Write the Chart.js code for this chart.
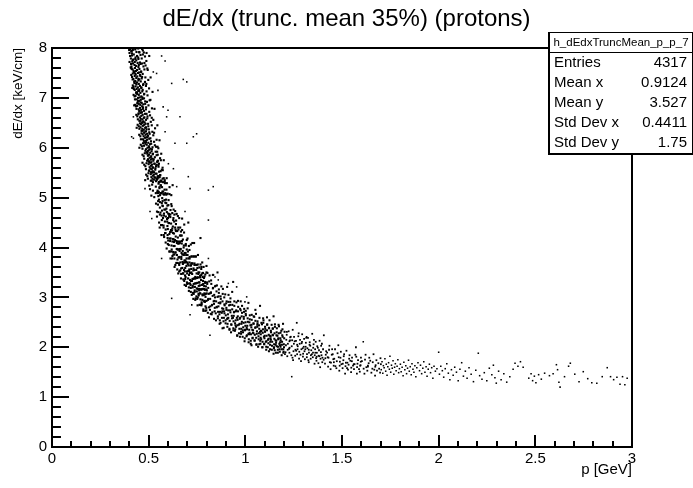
<!DOCTYPE html>
<html>
<head>
<meta charset="utf-8">
<title>dE/dx (trunc. mean 35%) (protons)</title>
<script src="https://cdn.jsdelivr.net/npm/chart.js@4.4.1/dist/chart.umd.min.js"></script>
<style>
  html, body { margin: 0; padding: 0; background: #fff; }
  #plot { display: block; }
</style>
</head>
<body>
<canvas id="plot" width="693" height="488"></canvas>
<script>
// --- DATA ([p GeV, dE/dx keV/cm]) ---

const xRange = [0, 3];
const yRange = [0, 8];
const xTickStep = 0.5;
const yTickStep = 1;

// steep part of the band, p < 0.6
const steepBand = [
  [.405,7.98],[.431,7.97],[.446,7.99],[.418,7.96],[.412,7.93],[.437,7.92],[.401,7.9],[.452,7.91],
  [.423,7.87],[.414,7.85],[.44,7.84],[.432,7.81],[.408,7.79],[.447,7.78],[.421,7.77],
  [.436,7.75],[.415,7.73],[.428,7.72],[.443,7.7],[.419,7.69],[.458,7.68],[.427,7.66],
  [.435,7.64],[.411,7.63],[.447,7.62],[.429,7.6],[.452,7.58],[.417,7.57],[.44,7.56],
  [.434,7.54],[.461,7.53],[.424,7.52],[.445,7.5],[.418,7.49],[.433,7.47],[.455,7.46],
  [.428,7.44],[.441,7.43],[.466,7.42],[.436,7.4],[.421,7.38],[.452,7.37],[.447,7.35],
  [.431,7.34],[.459,7.33],[.44,7.31],[.426,7.3],[.449,7.28],[.437,7.27],[.471,7.26],
  [.455,7.24],[.432,7.23],[.444,7.21],[.462,7.2],[.438,7.18],[.451,7.17],[.428,7.16],
  [.446,7.14],[.467,7.13],[.435,7.11],[.457,7.1],[.441,7.08],[.476,7.07],[.449,7.06],
  [.432,7.04],[.462,7.03],[.454,7.01],[.445,7.0],[.468,6.98],[.438,6.97],[.459,6.96],
  [.451,6.94],[.482,6.93],[.443,6.91],[.464,6.9],[.449,6.88],[.472,6.87],[.457,6.86],
  [.441,6.84],[.466,6.83],[.487,6.81],[.455,6.8],[.47,6.78],[.448,6.77],[.461,6.76],
  [.476,6.74],[.452,6.73],[.465,6.71],[.458,6.7],[.481,6.68],[.447,6.67],[.469,6.66],
  [.462,6.64],[.494,6.63],[.455,6.61],[.475,6.6],[.459,6.58],[.468,6.57],[.486,6.56],
  [.452,6.54],[.472,6.53],[.479,6.51],[.466,6.5],[.484,6.48],[.461,6.47],[.477,6.46],
  [.47,6.44],[.498,6.43],[.458,6.41],[.482,6.4],[.467,6.38],[.489,6.37],[.475,6.36],
  [.463,6.34],[.486,6.33],[.503,6.31],[.478,6.3],[.492,6.28],[.469,6.27],[.484,6.26],
  [.497,6.24],[.474,6.23],[.488,6.21],[.481,6.2],[.503,6.18],[.471,6.17],[.492,6.16],
  [.486,6.14],[.512,6.13],[.478,6.11],[.498,6.1],[.483,6.08],[.507,6.07],[.49,6.06],
  [.476,6.04],[.501,6.03],[.52,6.01],[.494,6.0],[.509,5.98],[.486,5.97],[.503,5.96],
  [.497,5.94],[.515,5.93],[.489,5.91],[.508,5.9],[.493,5.88],[.521,5.87],[.502,5.86],
  [.496,5.84],[.513,5.83],[.532,5.81],[.505,5.8],[.518,5.78],[.497,5.77],[.511,5.76],
  [.524,5.74],[.501,5.73],[.514,5.71],[.509,5.7],[.529,5.68],[.5,5.67],[.517,5.66],
  [.512,5.64],[.538,5.63],[.505,5.61],[.523,5.6],[.509,5.58],[.516,5.57],[.534,5.56],
  [.503,5.54],[.521,5.53],[.528,5.51],[.518,5.5],[.536,5.48],[.511,5.47],[.527,5.46],
  [.522,5.44],[.547,5.43],[.514,5.41],[.533,5.4],[.52,5.38],[.541,5.37],[.527,5.36],
  [.516,5.34],[.538,5.33],[.552,5.31],
  [.47,7.95],[.489,7.9],[.503,7.84],[.478,7.7],[.495,7.56],[.51,7.41],[.488,7.28],[.52,7.12],
  [.505,6.95],[.53,6.78],[.516,6.6],[.545,6.45],[.528,6.3],[.556,6.15],[.538,6.02],[.565,5.88],
  [.548,5.74],[.572,5.6],[.559,5.45],[.41,7.6],[.415,7.2],[.425,6.85],[.438,6.4],[.452,6.0],
  [.468,5.7],[.482,5.35],
  // edges of the band
  [.399,7.96],[.466,7.98],[.451,7.92],[.41,7.94],[.475,7.91],[.425,7.99],
  [.404,7.84],[.47,7.87],[.446,7.81],[.414,7.89],[.481,7.83],[.458,7.86],
  [.401,7.72],[.464,7.79],[.455,7.71],[.418,7.76],[.488,7.74],[.431,7.78],
  [.409,7.68],[.473,7.63],[.449,7.66],[.407,7.61],[.466,7.69],[.484,7.65],
  [.412,7.58],[.461,7.52],[.478,7.57],[.422,7.54],[.493,7.59],[.451,7.51],
  [.414,7.42],[.469,7.48],[.457,7.44],[.43,7.49],[.483,7.41],[.41,7.46],
  [.417,7.37],[.481,7.32],[.464,7.39],[.425,7.33],[.498,7.36],[.447,7.38],
  [.421,7.22],[.473,7.28],[.486,7.24],[.433,7.29],[.462,7.21],[.418,7.25],
  [.423,7.18],[.489,7.13],[.469,7.16],[.44,7.11],[.502,7.19],[.451,7.14],
  [.427,7.03],[.477,7.08],[.494,7.05],[.436,7.09],[.467,7.01],[.422,7.06],
  [.429,6.97],[.491,6.92],[.476,6.99],[.445,6.94],[.509,6.96],[.458,6.91],
  [.434,6.83],[.482,6.88],[.499,6.85],[.441,6.89],[.471,6.81],[.43,6.86],
  [.437,6.78],[.503,6.72],[.486,6.77],[.452,6.74],[.517,6.79],[.463,6.71],
  [.441,6.63],[.489,6.68],[.507,6.65],[.448,6.69],[.478,6.61],[.436,6.66],
  [.444,6.57],[.511,6.52],[.493,6.59],[.458,6.54],[.524,6.56],[.469,6.51],
  [.449,6.43],[.497,6.48],[.516,6.45],[.455,6.49],[.486,6.41],[.443,6.46],
  [.452,6.38],[.519,6.32],[.501,6.37],[.467,6.34],[.533,6.39],[.477,6.31],
  [.457,6.23],[.505,6.28],[.524,6.25],[.463,6.29],[.494,6.21],[.451,6.26],
  [.46,6.17],[.528,6.12],[.509,6.19],[.475,6.14],[.541,6.16],[.486,6.11],
  [.465,6.03],[.513,6.08],[.532,6.05],[.471,6.09],[.502,6.01],[.459,6.06],
  [.468,5.98],[.536,5.92],[.517,5.97],[.483,5.94],[.55,5.99],[.494,5.91],
  [.474,5.83],[.522,5.88],[.541,5.85],[.48,5.89],[.511,5.81],[.468,5.86],
  [.477,5.78],[.545,5.72],[.526,5.77],[.492,5.74],[.559,5.79],[.503,5.71],
  [.483,5.63],[.531,5.68],[.55,5.65],[.489,5.69],[.52,5.61],[.477,5.66],
  [.486,5.57],[.554,5.52],[.535,5.59],[.501,5.54],[.568,5.56],[.512,5.51],
  [.493,5.43],[.541,5.48],[.56,5.45],[.499,5.49],[.53,5.41],[.487,5.46],
  [.496,5.38],[.564,5.32],[.545,5.37],[.511,5.34],[.578,5.39],[.522,5.31],
  [.503,5.24],[.551,5.28],[.569,5.21],[.518,5.26],[.584,5.29],[.537,5.22],
  [.507,5.17],[.575,5.12],[.556,5.19],[.522,5.14],[.545,5.11],[.592,5.16],
  [.514,5.04],[.561,5.09],[.58,5.06],[.529,5.01],[.598,5.08],[.55,5.03]
];

// knee of the band, 0.54 < p < 0.80
const kneeBand = [
  [.538,4.88],[.542,5.36],[.544,5.72],[.537,5.09],[.547,5.86],[.545,5.4],[.543,4.72],[.546,5.14],
  [.551,5.43],[.548,4.86],[.553,5.68],[.55,5.12],[.549,4.71],[.556,5.21],[.557,5.41],[.553,4.96],[.554,4.5],
  [.562,5.25],[.559,5.05],[.561,4.7],[.563,5.75],[.558,4.8],[.566,5.34],[.564,4.45],[.567,5.09],[.563,5.24],
  [.571,4.84],[.572,5.38],[.569,4.74],[.568,4.55],[.57,4.99],[.578,5.75],[.574,4.59],[.576,5.07],[.573,4.83],
  [.58,4.21],[.582,5.16],[.579,4.68],[.583,5.35],[.577,4.4],[.586,4.9],[.584,4.52],[.587,4.76],[.585,4.29],
  [.59,4.96],[.592,4.78],[.588,4.36],[.591,5.06],[.594,5.29],[.596,4.52],[.593,3.98],[.597,4.84],[.595,4.57],
  [.601,4.68],[.599,4.37],[.603,4.95],[.598,4.19],[.6,4.59],[.608,5.21],[.606,4.67],[.604,4.05],[.605,4.49],
  [.609,4.18],[.611,4.31],[.613,4.75],[.607,3.92],[.612,4.66],[.617,4.87],[.615,4.35],[.614,4.18],[.616,4.48],
  [.619,3.96],[.622,4.69],[.618,4.04],[.621,4.34],[.624,5.25],[.626,4.17],[.625,4.42],[.623,3.83],[.627,4.55],
  [.63,4.16],[.628,3.86],[.631,4.28],[.633,4.66],[.629,4.03],[.637,4.4],[.634,4.03],[.636,4.15],[.633,3.86],
  [.641,4.47],[.638,3.65],[.64,4.22],[.639,3.9],[.644,4.67],[.646,4.09],[.645,3.97],[.648,4.33],[.643,3.69],
  [.651,4.2],[.649,3.76],[.65,3.96],[.653,4.4],[.652,4.08],[.654,3.8],[.658,4.59],[.653,3.48],[.656,4.08],
  [.66,3.93],[.662,4.24],[.658,3.65],[.661,4.09],[.659,3.81],[.667,4.32],[.664,3.7],[.666,3.97],[.663,3.54],
  [.671,4.08],[.669,3.81],[.668,3.47],[.673,4.35],[.67,3.89],[.674,3.59],[.676,3.93],[.677,4.16],[.675,3.71],
  [.68,3.86],[.678,3.48],[.684,4.46],[.681,3.7],[.682,4.04],[.684,3.33],[.686,3.89],[.685,3.74],[.683,3.55],
  [.692,4.07],[.689,3.59],[.691,3.89],[.688,3.44],[.69,3.74],[.695,3.63],[.697,3.96],[.693,3.23],[.696,3.78],
  [.701,3.85],[.699,3.48],[.705,4.5],[.698,3.3],[.7,3.7],[.704,3.38],[.706,3.64],[.708,4.03],[.705,3.53],
  [.711,3.7],[.708,3.2],[.712,3.81],[.709,3.45],[.71,3.56],[.718,4.06],[.714,3.28],[.716,3.64],[.715,3.49],
  [.719,3.33],[.722,3.82],[.718,3.19],[.72,3.57],[.721,3.68],[.725,3.47],[.723,3.05],[.727,3.68],[.724,3.33],
  [.732,3.82],[.729,3.37],[.731,3.54],[.728,3.2],[.735,4.09],[.735,3.38],[.737,3.65],[.733,3.07],[.736,3.55],
  [.739,3.21],[.741,3.41],[.744,3.82],[.738,3.11],[.74,3.28],[.746,3.55],[.745,3.28],[.748,3.65],[.743,2.98],
  [.75,3.39],[.749,3.12],[.751,3.29],[.755,3.85],[.752,3.59],[.754,3.0],[.756,3.4],[.753,3.17],[.757,3.47],
  [.762,3.6],[.759,3.04],[.76,3.3],[.761,3.17],[.768,4.19],[.763,2.85],[.766,3.43],[.765,3.24],[.764,3.08],
  [.771,3.35],[.77,3.16],[.773,3.61],[.768,2.96],[.772,3.45],[.775,3.16],[.774,2.87],[.777,3.48],[.776,3.25],
  [.779,3.04],[.781,3.33],[.778,2.95],[.784,3.61],[.78,3.17],[.786,3.39],[.785,3.05],[.783,2.76],[.787,3.23],
  [.789,2.93],[.79,3.15],[.793,3.46],[.791,3.06],[.792,3.31],[.794,2.82],[.796,3.22],[.795,3.07],[.799,3.63],
  [.801,3.14],[.799,2.93],[.802,3.3],[.798,2.74],[.8,3.08],
  [.543,4.62],[.547,5.4],[.549,4.93],[.544,5.92],[.541,5.66],[.548,5.09],[.546,6.02],
  [.553,5.41],[.558,4.66],[.552,5.11],[.557,4.4],[.551,5.62],[.559,4.91],[.554,5.31],
  [.567,4.64],[.562,5.53],[.569,4.45],[.563,5.09],[.568,4.89],[.561,5.34],[.566,4.25],
  [.572,4.93],[.578,4.25],[.574,5.31],[.579,4.64],[.571,5.12],[.577,4.44],[.573,5.55],
  [.587,4.29],[.582,4.95],[.589,4.62],[.583,5.32],[.588,4.1],[.581,4.76],[.586,5.09],
  [.592,5.07],[.598,4.25],[.594,4.71],[.599,4.07],[.591,4.89],[.597,4.43],[.593,5.39],
  [.607,4.27],[.602,4.85],[.609,3.92],[.603,4.49],[.608,5.07],[.601,4.14],[.606,4.63],
  [.612,4.61],[.618,3.92],[.614,4.31],[.619,4.83],[.611,4.13],[.617,5.05],[.613,3.78],
  [.627,3.91],[.622,4.38],[.629,4.76],[.623,4.12],[.628,4.59],[.621,3.78],[.626,4.29],
  [.632,4.52],[.638,3.9],[.634,3.61],[.639,4.36],[.631,4.11],[.637,4.73],[.633,3.78],
  [.647,3.97],[.642,4.54],[.649,3.69],[.643,4.13],[.648,3.56],[.641,4.33],[.646,3.85],
  [.652,4.12],[.658,3.52],[.654,4.36],[.659,3.8],[.651,4.63],[.657,3.68],[.653,3.96],
  [.667,3.38],[.662,4.12],[.669,3.77],[.663,4.4],[.668,3.58],[.661,3.97],[.666,4.24],
  [.672,4.13],[.678,3.48],[.674,3.86],[.679,3.36],[.671,4.24],[.677,3.67],[.673,4.58],
  [.687,3.52],[.682,3.85],[.689,3.37],[.683,4.3],[.688,3.7],[.681,4.0],[.686,3.25],
  [.692,4.04],[.698,3.52],[.694,3.85],[.699,3.27],[.691,3.41],[.697,4.15],[.693,3.71],
  [.707,3.28],[.702,3.67],[.709,3.53],[.703,3.92],[.708,3.13],[.701,4.18],[.706,3.78],
  [.712,3.78],[.718,3.11],[.714,3.35],[.719,3.64],[.711,3.95],[.717,3.25],[.713,3.49],
  [.727,3.37],[.722,3.82],[.729,3.09],[.723,3.68],[.728,3.23],[.721,3.5],[.726,4.09],
  [.732,3.58],[.738,3.14],[.734,3.82],[.739,3.38],[.731,2.97],[.737,3.68],[.733,3.27],
  [.747,3.02],[.742,3.38],[.749,3.18],[.743,3.82],[.748,3.48],[.741,2.95],[.746,3.65],
  [.752,3.4],[.758,3.07],[.754,3.66],[.759,3.23],[.751,2.97],[.757,3.5],[.753,2.84],
  [.767,3.08],[.762,3.5],[.769,2.85],[.763,3.3],[.768,3.66],[.761,3.14],[.766,3.4],
  [.772,3.57],[.778,3.06],[.774,2.9],[.779,3.41],[.771,3.16],[.777,3.7],[.773,2.84],
  [.787,2.92],[.782,3.27],[.789,3.42],[.783,2.73],[.788,3.08],[.781,3.49],[.786,3.17],
  [.792,3.29],[.798,2.79],[.794,3.01],[.799,3.5],[.791,2.91],[.797,3.16],[.793,2.73]
];

// bend of the band, 0.8 < p < 1.2
const bendBand = [
  [.808,3.19],[.812,2.8],[.81,3.07],[.815,3.44],[.807,2.95],[.819,2.82],[.822,3.09],[.824,3.27],[.818,2.97],[.821,2.67],
  [.831,3.03],[.828,2.85],[.834,3.45],[.832,3.18],[.829,2.7],[.838,2.87],[.843,3.22],[.841,2.72],[.839,3.05],[.84,2.93],
  [.851,3.12],[.848,2.54],[.852,2.8],[.849,2.92],[.856,3.5],[.859,2.71],[.862,3.02],[.861,2.82],[.863,3.16],[.858,2.62],
  [.871,2.9],[.868,2.54],[.872,3.02],[.869,2.71],[.87,2.88],[.879,2.59],[.884,3.17],[.88,2.78],[.881,2.72],[.882,2.92],
  [.891,3.0],[.889,2.59],[.888,2.39],[.892,2.86],[.89,2.72],[.902,2.75],[.899,2.64],[.906,3.21],[.898,2.48],[.901,2.88],
  [.909,2.58],[.912,2.91],[.908,2.47],[.911,2.74],[.91,2.66],[.923,2.98],[.919,2.53],[.921,2.74],[.918,2.37],[.922,2.85],
  [.93,2.63],[.928,2.45],[.932,2.76],[.937,3.31],[.931,2.58],[.938,2.34],[.941,2.7],[.939,2.52],[.943,2.83],[.94,2.63],
  [.951,2.72],[.95,2.54],[.948,2.36],[.954,2.9],[.949,2.44],[.961,2.62],[.958,2.24],[.962,2.72],[.959,2.44],[.96,2.55],
  [.969,2.37],[.973,2.77],[.971,2.57],[.97,2.47],[.976,2.92],[.981,2.62],[.978,2.27],[.98,2.47],[.983,2.69],[.979,2.37],
  [.989,2.4],[.991,2.49],[.994,2.77],[.988,2.3],[.992,2.57],[1.002,2.67],[.999,2.35],[.997,2.18],[1.001,2.5],[1.0,2.43],
  [1.008,2.24],[1.012,2.58],[1.01,2.43],[1.016,2.89],[1.009,2.36],[1.021,2.5],[1.019,2.26],[1.023,2.64],[1.02,2.35],[1.018,2.16],
  [1.031,2.4],[1.029,2.26],[1.033,2.55],[1.028,2.07],[1.032,2.45],[1.04,2.34],[1.043,2.62],[1.038,2.19],[1.042,2.48],[1.039,2.29],
  [1.052,2.53],[1.048,2.13],[1.051,2.39],[1.049,2.25],[1.055,2.67],[1.059,2.27],[1.062,2.41],[1.058,2.06],[1.06,2.32],[1.063,2.48],
  [1.071,2.44],[1.069,2.16],[1.07,2.28],[1.076,2.83],[1.072,2.37],[1.078,2.07],[1.081,2.33],[1.083,2.49],[1.079,2.19],[1.08,2.26],
  [1.091,2.36],[1.089,2.11],[1.09,2.29],[1.094,2.54],[1.088,2.0],[1.099,2.18],[1.102,2.41],[1.098,2.07],[1.101,2.32],[1.1,2.23],
  [1.113,2.45],[1.109,2.12],[1.11,2.23],[1.108,2.01],[1.112,2.34],[1.119,2.08],[1.121,2.25],[1.125,2.54],[1.12,2.17],[1.122,2.39],
  [1.131,2.22],[1.128,1.96],[1.132,2.33],[1.129,2.11],[1.13,2.18],[1.138,2.03],[1.142,2.38],[1.141,2.25],[1.139,2.11],[1.146,2.62],
  [1.151,2.28],[1.148,2.0],[1.15,2.17],[1.153,2.41],[1.149,2.06],[1.16,2.13],[1.161,2.24],[1.158,1.89],[1.162,2.3],[1.159,2.09],
  [1.171,2.18],[1.169,2.01],[1.174,2.42],[1.168,1.95],[1.17,2.16],[1.179,2.04],[1.182,2.29],[1.18,2.1],[1.181,2.18],[1.178,1.91],
  [1.191,2.24],[1.189,2.05],[1.188,1.96],[1.195,2.47],[1.19,2.11],[1.199,2.06],[1.203,2.31],[1.198,1.91],[1.201,2.18],[1.2,2.0],
  [.806,2.69],[.803,3.27],[.808,2.97],[.804,3.49],[.813,3.32],[.817,2.75],[.816,3.08],[.812,2.6],
  [.827,2.84],[.823,3.34],[.826,2.66],[.822,3.1],[.833,3.19],[.838,2.57],[.836,2.92],[.832,3.45],
  [.847,2.68],[.843,3.0],[.846,3.23],[.842,2.79],[.853,3.24],[.858,2.58],[.856,3.01],[.852,2.81],
  [.867,2.47],[.863,3.09],[.866,2.66],[.862,2.89],[.873,2.97],[.878,2.69],[.876,3.22],[.872,2.49],
  [.887,2.52],[.883,3.07],[.886,2.77],[.882,2.38],[.893,2.84],[.898,2.54],[.896,3.06],[.892,2.68],
  [.907,2.41],[.903,2.92],[.906,2.57],[.902,2.79],[.913,3.05],[.918,2.35],[.916,2.84],[.912,2.59],
  [.927,2.46],[.923,2.7],[.926,2.3],[.922,2.91],[.933,2.85],[.938,2.38],[.936,2.59],[.932,3.11],
  [.947,2.48],[.943,2.92],[.946,2.33],[.942,2.71],[.953,2.74],[.958,2.23],[.956,2.59],[.952,2.41],
  [.967,2.28],[.963,2.81],[.966,2.45],[.962,2.93],[.973,2.59],[.978,2.31],[.976,2.74],[.972,2.21],
  [.987,2.34],[.983,2.83],[.986,2.21],[.982,2.51],[.993,2.71],[.998,2.34],[.996,2.12],[.992,2.61],
  [1.007,2.39],[1.003,2.64],[1.006,2.22],[1.002,2.73],[1.017,2.1],[1.013,2.51],[1.016,2.27],[1.012,2.78],
  [1.023,2.56],[1.028,2.13],[1.026,2.44],[1.022,2.29],[1.037,2.18],[1.033,2.65],[1.036,2.35],[1.032,2.04],
  [1.043,2.47],[1.048,2.14],[1.046,2.61],[1.042,2.28],[1.057,2.05],[1.053,2.4],[1.056,2.19],[1.052,2.75],
  [1.063,2.52],[1.068,2.22],[1.066,2.01],[1.062,2.45],[1.077,2.13],[1.073,2.59],[1.076,2.31],[1.072,2.06],
  [1.083,2.32],[1.088,2.0],[1.086,2.46],[1.082,2.16],[1.097,2.06],[1.093,2.49],[1.096,2.21],[1.092,2.58],
  [1.103,2.37],[1.108,1.95],[1.106,2.11],[1.102,2.31],[1.117,2.15],[1.113,2.46],[1.116,2.0],[1.112,2.6],
  [1.123,2.38],[1.128,2.05],[1.126,2.23],[1.122,1.92],[1.137,1.95],[1.133,2.3],[1.136,2.45],[1.132,2.15],
  [1.143,2.24],[1.148,1.98],[1.146,1.87],[1.142,2.37],[1.157,2.05],[1.153,2.46],[1.156,2.14],[1.152,1.94],
  [1.163,2.38],[1.168,1.89],[1.166,2.23],[1.162,2.02],[1.177,1.96],[1.173,2.28],[1.176,2.07],[1.172,2.45],
  [1.183,2.14],[1.188,1.84],[1.186,2.33],[1.182,2.01],[1.197,1.89],[1.193,2.21],[1.196,1.96],[1.192,2.36]
];

// flattening part, 1.2 < p < 1.7
const tailBand = [
  [1.212,2.15],[1.208,1.9],[1.214,2.25],[1.21,2.04],[1.219,1.95],[1.224,2.32],[1.22,2.07],[1.217,1.82],
  [1.232,2.2],[1.229,1.99],[1.228,1.89],[1.231,2.14],[1.24,2.02],[1.245,2.35],[1.238,1.84],[1.242,2.14],
  [1.252,2.21],[1.249,1.92],[1.251,2.07],[1.247,1.74],[1.259,1.95],[1.262,2.13],[1.258,1.83],[1.266,2.49],
  [1.271,2.02],[1.268,1.86],[1.274,2.22],[1.27,1.96],[1.278,1.77],[1.281,2.07],[1.279,1.91],[1.283,2.15],
  [1.291,2.08],[1.29,1.96],[1.288,1.72],[1.294,2.26],[1.299,1.87],[1.302,2.01],[1.304,2.17],[1.298,1.81],
  [1.312,2.01],[1.308,1.76],[1.313,2.09],[1.31,1.96],[1.319,1.86],[1.324,2.19],[1.318,1.8],[1.321,1.98],
  [1.332,2.05],[1.329,1.89],[1.328,1.7],[1.333,2.1],[1.338,1.77],[1.341,1.94],[1.346,2.27],[1.339,1.84],
  [1.351,1.99],[1.349,1.8],[1.353,2.06],[1.35,1.89],[1.358,1.67],[1.361,1.96],[1.359,1.84],[1.364,2.11],
  [1.372,2.02],[1.368,1.73],[1.37,1.89],[1.369,1.81],[1.379,1.83],[1.384,2.13],[1.378,1.68],[1.381,1.94],
  [1.392,2.03],[1.389,1.77],[1.391,1.9],[1.387,1.6],[1.399,1.79],[1.402,1.96],[1.398,1.7],[1.406,2.24],
  [1.418,1.92],[1.412,1.67],[1.416,1.85],[1.414,1.78],[1.428,1.61],[1.433,1.95],[1.43,1.79],[1.435,2.03],
  [1.447,1.85],[1.443,1.69],[1.441,1.56],[1.449,1.96],[1.458,1.7],[1.464,1.96],[1.46,1.77],[1.457,1.63],
  [1.477,1.88],[1.473,1.72],[1.471,1.58],[1.481,2.04],[1.488,1.63],[1.492,1.79],[1.494,1.91],[1.486,1.53],
  [1.507,1.74],[1.503,1.58],[1.509,1.82],[1.504,1.67],[1.523,1.93],[1.518,1.62],[1.52,1.69],[1.516,1.47],
  [1.534,1.65],[1.539,1.84],[1.531,1.55],[1.537,1.77],[1.552,1.79],[1.547,1.5],[1.551,1.72],[1.548,1.59],
  [1.565,1.66],[1.569,1.85],[1.562,1.56],[1.572,2.0],[1.577,1.47],[1.583,1.74],[1.58,1.67],[1.578,1.6],
  [1.598,1.79],[1.592,1.51],[1.597,1.71],[1.594,1.63],[1.612,1.57],[1.619,1.75],[1.616,1.47],[1.622,1.85],
  [1.638,1.68],[1.631,1.53],[1.641,1.79],[1.634,1.61],[1.652,1.49],[1.659,1.7],[1.657,1.57],[1.663,1.86],
  [1.678,1.74],[1.671,1.43],[1.674,1.64],[1.681,1.53],[1.692,1.57],[1.699,1.78],[1.697,1.49],[1.701,1.66],
  [1.205,1.86],[1.215,2.31],[1.226,1.97],[1.235,2.21],[1.244,1.79],[1.255,2.12],[1.263,1.93],[1.276,2.28],
  [1.285,1.85],[1.293,2.11],[1.306,1.92],[1.315,2.19],[1.326,1.74],[1.336,2.03],[1.344,1.86],[1.355,2.15],
  [1.366,1.78],[1.375,1.99],[1.383,1.82],[1.396,2.07],[1.405,1.75],[1.423,1.89],[1.437,1.7],[1.452,1.86],
  [1.466,1.62],[1.483,1.8],[1.497,1.66],[1.511,1.86],[1.526,1.58],[1.543,1.73],[1.557,1.63],[1.574,1.81],
  [1.588,1.56],[1.603,1.72],[1.626,1.6],[1.646,1.73],[1.667,1.55],[1.688,1.68],
  [1.228,2.12],[1.268,2.05],[1.297,1.98],[1.328,1.95],[1.362,1.89],[1.394,1.84],[1.426,1.8],[1.455,1.76],
  [1.489,1.71],[1.528,1.69],[1.561,1.66],[1.596,1.64],[1.634,1.63],[1.672,1.61]
];

// plateau, sparse points 1.7 < p < 3
const plateau = [
  [1.703,1.55],[1.707,1.71],[1.711,1.48],[1.714,1.63],[1.718,1.59],[1.722,1.77],[1.726,1.52],[1.729,1.66],
  [1.733,1.44],[1.737,1.61],[1.741,1.69],[1.745,1.56],[1.748,1.82],[1.752,1.5],[1.756,1.64],[1.76,1.58],
  [1.764,1.73],[1.768,1.46],[1.772,1.6],[1.776,1.67],[1.78,1.53],[1.785,1.62],[1.789,1.75],[1.793,1.49],
  [1.797,1.57],[1.802,1.66],[1.806,1.51],[1.811,1.6],[1.816,1.43],[1.82,1.7],[1.825,1.55],[1.83,1.63],
  [1.834,1.47],[1.839,1.58],[1.844,1.74],[1.848,1.52],[1.853,1.61],[1.858,1.45],[1.862,1.67],[1.867,1.56],
  [1.872,1.5],[1.877,1.63],[1.882,1.41],[1.887,1.59],[1.893,1.69],[1.901,1.53],[1.906,1.64],[1.912,1.47],
  [1.918,1.58],[1.923,1.71],[1.929,1.5],[1.935,1.61],[1.94,1.42],[1.946,1.56],[1.952,1.66],[1.958,1.49],
  [1.964,1.59],[1.97,1.38],[1.976,1.62],[1.983,1.52],[1.991,1.57],[2.004,1.46],[2.011,1.62],[2.019,1.53],
  [2.026,1.4],[2.034,1.57],[2.042,1.67],[2.05,1.48],[2.058,1.35],[2.066,1.55],[2.075,1.44],[2.083,1.6],
  [2.092,1.5],[2.101,1.33],[2.11,1.56],[2.119,1.69],[2.128,1.42],[2.138,1.52],[2.147,1.38],[2.157,1.59],
  [2.168,1.46],[2.18,1.31],[2.192,1.54],[2.205,1.88],[2.212,1.43],[2.224,1.36],[2.236,1.49],[2.249,1.33],
  [2.262,1.58],[2.275,1.45],[2.283,1.64],[2.291,1.39],[2.298,1.28],[2.31,1.52],[2.323,1.35],[2.337,1.47],
  [2.352,1.3],[2.368,1.41],[2.385,1.56],[2.395,1.68],[2.41,1.62],[2.423,1.71],[2.437,1.6],[2.466,1.38],
  [2.478,1.47],[2.486,1.33],[2.495,1.42],[2.503,1.29],[2.517,1.45],[2.531,1.36],[2.548,1.48],[2.573,1.43],
  [2.592,1.47],[2.609,1.65],[2.615,1.55],[2.622,1.3],[2.628,1.2],[2.651,1.41],[2.672,1.62],[2.681,1.68],
  [2.704,1.46],[2.726,1.31],[2.748,1.51],[2.771,1.37],[2.792,1.29],[2.818,1.28],[2.846,1.41],[2.872,1.59],
  [2.889,1.41],[2.905,1.35],[2.922,1.4],[2.938,1.26],[2.951,1.41],[2.963,1.25],[2.975,1.38]
];

// isolated entries away from the band
const strays = [
  [.567,7.84],[.585,7.74],[.619,7.29],[.679,7.37],[.697,7.32],[.524,7.52],[.541,7.49],[.548,7.15],
  [.575,6.82],[.6,6.75],[.593,6.62],[.662,6.62],[.585,6.32],[.748,6.28],[.731,6.22],[.636,6.09],
  [.697,6.09],[.602,5.68],[.628,5.58],[.705,5.42],[.645,5.22],[.714,5.18],[.809,5.15],[.834,5.22],
  [.809,4.55],[.645,4.68],[.688,4.72],[.412,6.22],[.421,6.19],[.421,6.62],[.481,5.18],[.507,4.72],
  [.516,4.58],[.567,3.78],[.809,3.78],[.912,3.28],[.955,3.21],[.619,2.98],[.843,3.41],[.86,3.35],
  [1.007,3.01],[.998,2.91],[.723,2.85],[.714,2.65],[.817,2.24],[1.61,2.11],[1.317,2.21],[1.24,1.41],
  [2.0,1.9]
];

const histName = 'h_dEdxTruncMean_p_p_7';
const statLabels = ['Entries', 'Mean x', 'Mean y', 'Std Dev x', 'Std Dev y'];
const statValues = ['4317', '0.9124', '3.527', '0.4411', '1.75'];

const FONT = "'Liberation Sans', Arial, Helvetica, sans-serif";

// --- HELPERS ---

function toPoints(pairs) {
  return pairs.map(([x, y]) => ({ x, y }));
}

function makeDataset(label, pairs, radius) {
  return {
    label,
    data: toPoints(pairs),
    showLine: false,
    pointStyle: 'rect',
    pointRadius: radius,
    pointHoverRadius: radius,
    backgroundColor: '#000',
    borderColor: '#000',
    borderWidth: 0
  };
}

// ROOT style: frame + ticks drawn inside the frame, minor ticks included
const rootFrame = {
  id: 'rootFrame',
  afterDatasetsDraw(chart) {
    const { ctx, chartArea: a, scales: { x, y } } = chart;
    ctx.save();
    ctx.strokeStyle = '#000';
    ctx.lineWidth = 2;
    ctx.beginPath();
    for (let i = 0; i <= 30; i++) {
      const px = Math.round(x.getPixelForValue(i / 10));
      const len = i % 5 === 0 ? 12 : 6;
      ctx.moveTo(px, a.bottom);
      ctx.lineTo(px, a.bottom - len);
    }
    for (let i = 0; i <= 40; i++) {
      const py = Math.round(y.getPixelForValue(i / 5));
      const len = i % 5 === 0 ? 17 : 9;
      ctx.moveTo(a.left, py);
      ctx.lineTo(a.left + len, py);
    }
    ctx.stroke();
    ctx.strokeRect(a.left, a.top, a.right - a.left, a.bottom - a.top);
    ctx.restore();
  },
  afterDraw(chart) {
    drawStatBox(chart.ctx);
  }
};

function drawStatBox(ctx) {
  const left = 548, top = 32, right = 692, bottom = 154;
  ctx.save();
  ctx.fillStyle = '#fff';
  ctx.fillRect(left, top, right - left + 1, bottom - top);
  ctx.strokeStyle = '#000';
  ctx.lineWidth = 1;
  ctx.strokeRect(left + 0.5, top + 0.5, right - left, bottom - top - 1);
  // shadow on left / bottom edges
  ctx.lineWidth = 2;
  ctx.beginPath();
  ctx.moveTo(left + 1, top);
  ctx.lineTo(left + 1, bottom);
  ctx.lineTo(right + 1, bottom);
  ctx.stroke();
  ctx.lineWidth = 1;
  ctx.beginPath();
  ctx.moveTo(left, 52.5);
  ctx.lineTo(right + 1, 52.5);
  ctx.stroke();

  ctx.fillStyle = '#000';
  ctx.textBaseline = 'middle';
  ctx.font = `11.5px ${FONT}`;
  ctx.textAlign = 'center';
  ctx.fillText(histName, (left + right) / 2 + 1, 42.5);

  ctx.font = `15px ${FONT}`;
  statLabels.forEach((lbl, i) => {
    const yy = 63 + i * 20;
    ctx.textAlign = 'left';
    ctx.fillText(lbl, left + 6, yy);
    ctx.textAlign = 'right';
    ctx.fillText(statValues[i], right - 5, yy);
  });
  ctx.restore();
}

// --- CHART ---

new Chart(document.getElementById('plot'), {
  type: 'scatter',
  data: {
    datasets: [
      makeDataset('steep', steepBand, 1.5),
      makeDataset('knee', kneeBand, 1.5),
      makeDataset('bend', bendBand, 1.45),
      makeDataset('tail', tailBand, 1.25),
      makeDataset('plateau', plateau, 1.1),
      makeDataset('strays', strays, 1.1)
    ]
  },
  options: {
    responsive: false,
    animation: false,
    events: [],
    layout: { padding: 0 },
    plugins: {
      legend: { display: false },
      tooltip: { enabled: false },
      title: {
        display: true,
        text: 'dE/dx (trunc. mean 35%) (protons)',
        color: '#000',
        font: { family: FONT, size: 24, weight: 'normal', lineHeight: 1.2 },
        padding: { top: 5, bottom: 14.2 }
      }
    },
    scales: {
      x: {
        type: 'linear',
        min: xRange[0],
        max: xRange[1],
        afterFit(scale) { scale.height = 41; },
        grid: { display: false, drawTicks: false },
        border: { display: false },
        ticks: {
          stepSize: xTickStep,
          color: '#000',
          padding: 3,
          maxRotation: 0,
          autoSkip: false,
          font: { family: FONT, size: 15 },
          callback: (v) => String(v)
        },
        title: {
          display: true,
          text: 'p [GeV]',
          align: 'end',
          color: '#000',
          font: { family: FONT, size: 15, lineHeight: 1.2 },
          padding: { top: 0, bottom: 9 }
        }
      },
      y: {
        type: 'linear',
        min: yRange[0],
        max: yRange[1],
        afterFit(scale) { scale.width = 52; },
        grid: { display: false, drawTicks: false },
        border: { display: false },
        ticks: {
          stepSize: yTickStep,
          color: '#000',
          padding: 5,
          font: { family: FONT, size: 15 },
          callback: (v) => String(v)
        },
        title: {
          display: true,
          text: 'dE/dx [keV/cm]',
          align: 'end',
          color: '#000',
          font: { family: FONT, size: 13.5, lineHeight: 1.2 },
          padding: { top: 10, bottom: 0 }
        }
      },
      // empty right-hand axis, only reserves the margin right of the frame
      yRight: {
        type: 'linear',
        position: 'right',
        afterFit(scale) { scale.width = 61; },
        grid: { display: false, drawTicks: false },
        border: { display: false },
        ticks: { display: false }
      }
    }
  },
  plugins: [rootFrame]
});
</script>
</body>
</html>
